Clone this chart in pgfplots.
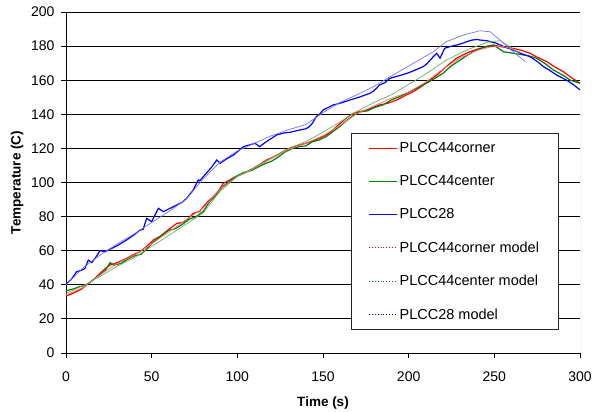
\documentclass[border=0pt]{standalone}
\usepackage{fontspec}
\setmainfont{Liberation Sans}
\usepackage{pgfplots}
\pgfplotsset{compat=1.18}
\definecolor{lineG}{RGB}{0,128,0}
\definecolor{lineB}{RGB}{0,0,255}
\definecolor{lineR}{RGB}{255,0,0}

\begin{document}
\begin{tikzpicture}
\useasboundingbox (0,0) rectangle (592bp,412bp);
\begin{axis}[
  at={(66bp,59bp)}, anchor=south west,
  scale only axis, width=514bp, height=341bp,
  xmin=0, xmax=300, ymin=0, ymax=200,
  xtick={0,50,...,300}, ytick={0,20,...,200},
  axis x line*=bottom, axis y line*=left,
  axis line style={black, line width=0.8bp},
  tick align=outside, major tick length=5bp,
  tick style={black, line width=0.8bp},
  ymajorgrids, major grid style={black, line width=0.8bp},
  /pgf/number format/assume math mode=true,
  ticklabel style={font=\fontsize{14bp}{16bp}\selectfont},
  xticklabel shift=10bp,
  yticklabel shift=3bp,
  xlabel={Time (s)}, ylabel={Temperature (C)},
  label style={font=\fontsize{13.5bp}{16bp}\selectfont\bfseries},
  xlabel style={at={(axis description cs:0.5,-0.1466)}, anchor=center},
  ylabel style={at={(axis description cs:-0.0953,0.5)}, anchor=center},
  legend cell align=left,
  legend style={at={(axis description cs:0.5545,0.645)}, anchor=north west,
    draw=black!85, line width=0.8bp, fill=white,
    font=\fontsize{14.5bp}{17bp}\selectfont,
    inner xsep=17bp, inner ysep=7bp, row sep=17.5bp},
]
\draw[gray!60, line width=0.8bp] (axis cs:300,0) -- (axis cs:300,200);

% PLCC44corner
\addplot[color=lineR, line width=1.2bp, forget plot] coordinates {
(0,33.5)(3,34.5)(6,36)(9,37.5)(12,39.9)(16,43)(19.8,46.7)(23,49.5)(25.7,51.6)(30,53)
(35.4,55.5)(39,57.5)(43.2,59.4)(47,62.5)(51,66.3)(55,68.5)(60,72.5)(64.6,76)(68,76.5)(71,78.5)
(74.3,81.9)(78,83)(80.1,85.8)(83,89)(86,91.7)(89,95)(91.8,99.5)(95.7,101.5)(98,103)(101.6,104.4)
(105,106)(109.3,108.3)(113,110.5)(117,113.2)(121,115)(125,117.1)(129,119.5)(132.7,121)(136.6,122)(140,123)
(144.3,124.5)(148,126)(152,127.9)(156,131)(160,134.7)(164,138)(167.7,140.6)(171,141.5)(175.5,142.5)(179,144)
(183,145.5)(188,146.5)(193,148.4)(198,151)(202.7,153.3)(207,156)(212.5,160.1)(217,163.5)(222,168)(225,170.5)
(228,172.9)(232,175)(235.8,176.7)(241.6,178.7)(247.5,180)(250,180.5)(253.3,179.7)(261,178.7)(266,177.5)(270.8,175.8)
(275,173.5)(280.6,170.9)(285,168)(290.3,165)(295,161.5)(300,158.2)
};

% PLCC44center
\addplot[color=lineG, line width=1.2bp, forget plot] coordinates {
(0,36.5)(4,37.5)(8.2,39)(12,40)(16,43)(20,46)(23,48.5)(25.7,53)(28,51.5)(32,52.5)
(36,55)(40,57)(44,58)(48,62)(52,66)(56,69)(60,72)(64,73)(68,75.5)(72,78.5)
(76,80)(80,83)(84,89)(88,93)(92,98)(96,101)(100,104)(104,106)(108,107)(112,109)
(116,111)(120,112.5)(124,115)(128,118)(132,120)(136,121)(140,121.5)(144,124)(148,125)(152,127)
(156,130)(160,133)(164,136.5)(168,139.5)(172,141.5)(176,142)(180,144)(185,145.5)(190,148.5)(195,150.5)
(200,153)(205,155.5)(210,158)(215,161)(220,164)(225,168.5)(230,171.8)(234,174.5)(237.7,176.7)(242,178.5)
(245.6,180)(249.4,180.6)(252,179)(255.3,176.7)(261,175.8)(266.9,174.8)(270,174.3)(274.7,172.9)(280,169.5)(284.4,166)
(290,163)(294.2,160.1)(300,158.2)
};

% PLCC28
\addplot[color=lineB, line width=1.2bp, forget plot] coordinates {
(0,40.5)(3,43)(6.2,47.7)(9,48.5)(11,49.5)(13,54.5)(15,53)(17,55.5)(19.8,60)(22.8,59.4)
(26,61)(30,63)(35.4,66.3)(40,69.5)(43.2,72.1)(45,72.5)(47.1,79)(50,77)(53.9,84.9)(56.8,82.9)
(60,84.5)(64.6,86.8)(68,88.5)(70.4,90.7)(74.3,95.6)(77.2,101.5)(78,101)(81,104.4)(85,109)(88,113.2)
(90,111.3)(94,114)(97.6,116)(100,118)(103.5,121)(107,122)(110.3,123)(113,121)(117,124)(123,127.9)
(127,129)(131,129.5)(136.6,130.8)(140,131.5)(142,132.7)(144,135)(146,138.6)(148,140)(150,142.5)(153,144)
(156,145.5)(160,146.5)(165.8,148.4)(171,150)(177.4,152.3)(180,154)(183,157.2)(186,158.5)(189,161.1)(194,162.5)
(199,164)(204,166)(208.6,168)(211,170)(214.4,173.8)(216.4,175.8)(218.3,172.9)(221,178.7)(224,179.7)(228,180.6)
(231,181.5)(233.9,182.6)(237,183.5)(239.7,183.9)(242,183.5)(245.6,183.2)(248,182.5)(251.4,181.6)(256,179.5)(261,177.7)
(266,175.5)(270.8,173.8)(275,171)(278.6,168)(282,166)(286.4,163)(292.2,160)(296,157.5)(300,154.3)
};

% PLCC44corner model
\addplot[color=lineR!55, line width=0.7bp, forget plot] coordinates {
(0,34)(10,38.5)(20,46)(30,52.5)(40,57.5)(50,64)(60,71)(70,78)(80,85)(90,96)
(100,103.5)(110,108.5)(120,114)(130,119.5)(140,123)(150,127.5)(160,133.5)(170,140.5)(180,145)(190,149.5)
(200,153)(210,159)(220,166.5)(230,173)(240,177.5)(248,179.5)(254,180)(260,178.5)(266,176)
};

% PLCC44center model
\addplot[color=lineG!60, line width=0.7bp, forget plot] coordinates {
(0,35)(10,39.5)(20,45)(30,51)(40,56)(50,62.5)(60,69)(70,75.5)(80,82)(90,95)
(100,103.5)(110,108.5)(120,114.5)(130,120)(140,124)(150,129.5)(160,135.5)(170,142)(180,147)(190,151.5)
(202.7,159.1)(212,165)(222,171.8)(233.9,177.7)(245.6,182.2)(253.3,183.2)(259,179.7)(264,176)
};

% PLCC28 model
\addplot[color=lineB!55, line width=0.7bp, forget plot] coordinates {
(0,40)(10,50)(20,57.5)(30,64)(40,70)(50,76.5)(60,83)(70,90)(80,102)(90,112)
(100,118.5)(110,123)(120,127.5)(130,131)(140,134)(150,141)(160,147)(170,151.5)(180,156.5)(190,162.5)
(202.7,169.9)(214.4,176.7)(222,182.6)(231.9,186.5)(241.6,189)(247.5,188.4)(253.3,183.6)(261,176.7)(268,170.9)
};

\addlegendimage{legend image code/.code={\draw[lineR, line width=1.2bp] (0bp,0bp) -- (28bp,0bp);}}
\addlegendentry{PLCC44corner}
\addlegendimage{legend image code/.code={\draw[lineG, line width=1.2bp] (0bp,0bp) -- (28bp,0bp);}}
\addlegendentry{PLCC44center}
\addlegendimage{legend image code/.code={\draw[lineB, line width=1.2bp] (0bp,0bp) -- (28bp,0bp);}}
\addlegendentry{PLCC28}
\addlegendimage{legend image code/.code={\draw[lineR, dotted, line width=0.9bp] (0bp,0bp) -- (28bp,0bp);}}
\addlegendentry{PLCC44corner model}
\addlegendimage{legend image code/.code={\draw[lineG, dotted, line width=0.9bp] (0bp,0bp) -- (28bp,0bp);}}
\addlegendentry{PLCC44center model}
\addlegendimage{legend image code/.code={\draw[lineB, dotted, line width=0.9bp] (0bp,0bp) -- (28bp,0bp);}}
\addlegendentry{PLCC28 model}
\end{axis}
\end{tikzpicture}
\end{document}
